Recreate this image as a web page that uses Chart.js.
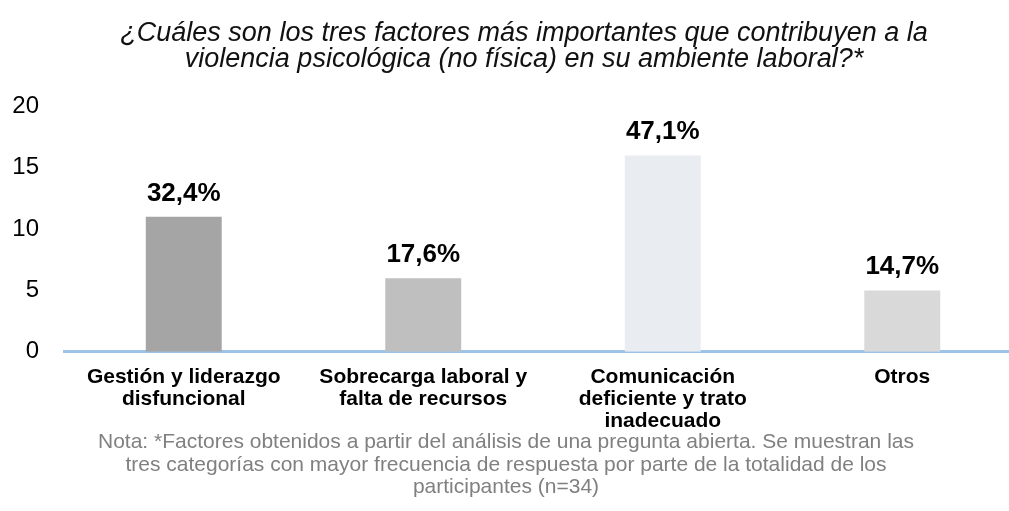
<!DOCTYPE html>
<html>
<head>
<meta charset="utf-8">
<script src="https://cdn.jsdelivr.net/npm/chart.js@4/dist/chart.umd.min.js"></script>
<style>
    html, body { margin: 0; padding: 0; background: #fff; overflow: hidden; }
    #wrap { position: relative; width: 1048px; height: 511px; }
    #nota {
        position: absolute; left: 0; top: 430px; width: 1012px;
        text-align: center; font-family: "Liberation Sans", Arial, sans-serif;
        font-size: 21px; line-height: 22.5px; color: #808080;
    }
</style>
</head>
<body>
<div id="wrap">
    <canvas id="chart" width="1048" height="511"></canvas>
    <div id="nota">Nota: *Factores obtenidos a partir del análisis de una pregunta abierta. Se muestran las<br>tres categorías con mayor frecuencia de respuesta por parte de la totalidad de los<br>participantes (n=34)</div>
</div>
<script>
var categories = [
    ["Gestión y liderazgo", "disfuncional"],
    ["Sobrecarga laboral y", "falta de recursos"],
    ["Comunicación", "deficiente y trato", "inadecuado"],
    ["Otros"]
];
var counts = [11, 6, 16, 5];
var percentLabels = ["32,4%", "17,6%", "47,1%", "14,7%"];
var barColors = ["#a5a5a5", "#bfbfbf", "#e9ecf1", "#d9d9d9"];
var yTicks = [0, 5, 10, 15, 20];

var fontFamily = '"Liberation Sans", Arial, sans-serif';

// percent labels over each bar
var barLabels = {
    id: 'barLabels',
    afterDatasetsDraw: function (chart) {
        var ctx = chart.ctx;
        var meta = chart.getDatasetMeta(0);
        ctx.save();
        ctx.font = 'bold 26px ' + fontFamily;
        ctx.fillStyle = '#000';
        ctx.textAlign = 'center';
        ctx.textBaseline = 'alphabetic';
        meta.data.forEach(function (bar, i) {
            ctx.fillText(percentLabels[i], bar.x, bar.y - 16);
        });
        ctx.restore();
    }
};

var chart = new Chart(document.getElementById("chart"), {
    type: 'bar',
    data: {
        labels: categories,
        datasets: [{
            data: counts,
            backgroundColor: barColors,
            borderWidth: 0,
            barPercentage: 0.317,
            categoryPercentage: 1
        }]
    },
    options: {
        responsive: false,
        animation: false,
        layout: { padding: { left: 0, right: 0, top: 0, bottom: 65 } },
        plugins: {
            legend: { display: false },
            tooltip: { enabled: false },
            title: {
                display: true,
                text: ["¿Cuáles son los tres factores más importantes que contribuyen a la",
                    "violencia psicológica (no física) en su ambiente laboral?*"],
                color: '#111',
                font: { family: fontFamily, size: 27, style: 'italic', weight: 'normal', lineHeight: 0.97 },
                padding: { top: 20, bottom: 34 }
            }
        },
        scales: {
            x: {
                grid: { display: false, drawTicks: false },
                border: { display: true, color: '#9dc3e6', width: 3 },
                ticks: {
                    color: '#000',
                    font: { family: fontFamily, size: 21, weight: 'bold', lineHeight: 1.05 },
                    padding: 14,
                    maxRotation: 0,
                    autoSkip: false
                }
            },
            y: {
                min: 0,
                max: 20,
                afterBuildTicks: function (scale) {
                    scale.ticks = yTicks.map(function (v) { return { value: v }; });
                },
                afterFit: function (scale) { scale.width = 64; },
                grid: { display: false, drawTicks: false },
                border: { display: false },
                ticks: {
                    color: '#000',
                    font: { family: fontFamily, size: 24 },
                    padding: 25
                }
            },
            // empty right-hand strip so the title centres like the original
            y2: {
                position: 'right',
                afterFit: function (scale) { scale.width = 26; },
                grid: { display: false, drawTicks: false },
                border: { display: false },
                ticks: { display: false }
            }
        }
    },
    plugins: [barLabels]
});
</script>
</body>
</html>
